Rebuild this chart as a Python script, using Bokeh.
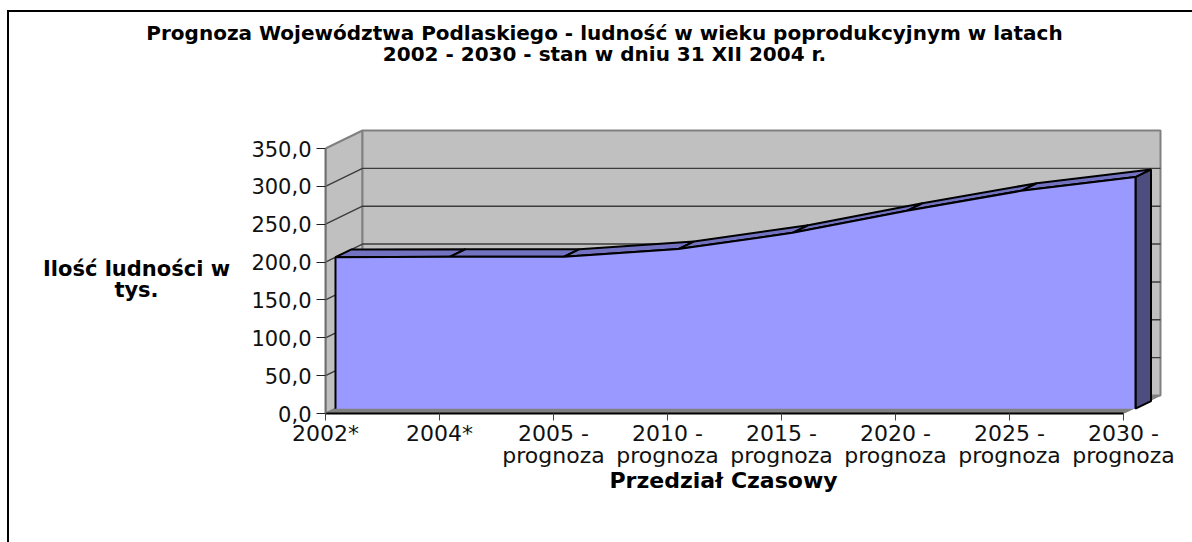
from bokeh.plotting import figure
from bokeh.models import Range1d, FixedTicker, Label
from bokeh.embed import file_html
from bokeh.resources import INLINE

categories = ["2002*", "2004*", "2005 -\nprognoza", "2010 -\nprognoza", "2015 -\nprognoza",
              "2020 -\nprognoza", "2025 -\nprognoza", "2030 -\nprognoza"]
population = [200.1, 200.5, 200.6, 210.7, 232.2, 261.3, 287.7, 305.8]
y_ticks = [0, 50, 100, 150, 200, 250, 300, 350]
y_tick_labels = ["0,0", "50,0", "100,0", "150,0", "200,0", "250,0", "300,0", "350,0"]
title_text = "Prognoza Województwa Podlaskiego - ludność w wieku poprodukcyjnym w latach\n2002 - 2030 - stan w dniu 31 XII 2004 r."
y_title = "Ilość ludności w\ntys."
x_title = "Przedział Czasowy"

FONT = "DejaVu Sans"
PX_PER_CAT = 114.0
PX_PER_VAL = 265.0 / 350.0
DX = 37.0 / PX_PER_CAT      # full chart depth, category units
DY = 18.0 / PX_PER_VAL      # full chart depth, value units
D_FRONT, D_BACK = 0.27, 0.69  # where the area slab sits within the depth
SLAB_STRETCH = 800.0 / 798.0
n = len(categories)
y_max = y_ticks[-1]
W, H = 1192, 542
F_LEFT, F_BOTTOM, F_W, F_H = 325, 413, 839, 285


def px(i, d):
    return i + d * DX


def sx(i, d):
    return i * SLAB_STRETCH + d * DX


def py(v, d):
    return v + d * DY


def data_x(page_x):
    return (page_x - F_LEFT) / PX_PER_CAT


def data_y(page_y):
    return (F_BOTTOM - page_y) / PX_PER_VAL


p = figure(width=W, height=H, output_backend="svg", toolbar_location=None,
           x_range=Range1d(0, F_W / PX_PER_CAT), y_range=Range1d(0, F_H / PX_PER_VAL),
           min_border_left=F_LEFT, min_border_right=W - F_LEFT - F_W,
           min_border_top=F_BOTTOM - F_H, min_border_bottom=H - F_BOTTOM,
           frame_width=F_W, frame_height=F_H)
p.outline_line_color = None
p.grid.visible = False
p.background_fill_color = "white"
p.border_fill_alpha = 0
p.styles = {
    "background-color": "white",
    "background-image": "linear-gradient(black,black),linear-gradient(black,black)",
    "background-repeat": "no-repeat",
    "background-position": "7px 10px,7px 10px",
    "background-size": "1185px 2px,2px 532px",
}

WALL, WALL_EDGE, GRID = "#C0C0C0", "#808080", "#3C3C3C"
last = n - 1

# walls and floor
p.patch([px(0, 0), px(0, 1), px(0, 1), px(0, 0)], [0, py(0, 1), py(y_max, 1), y_max],
        fill_color=WALL, line_color=WALL_EDGE, line_width=2)
p.patch([px(0, 1), px(last, 1), px(last, 1), px(0, 1)],
        [py(0, 1), py(0, 1), py(y_max, 1), py(y_max, 1)],
        fill_color=WALL, line_color=WALL_EDGE, line_width=2)
p.patch([px(0, 0), px(0, 1), px(last, 1), px(last, 0)], [0, py(0, 1), py(0, 1), 0],
        fill_color=WALL_EDGE, line_color=WALL_EDGE, line_width=1)

# gridlines across the side wall and back wall
for t in y_ticks[1:-1]:
    p.line([px(0, 0), px(0, 1), px(last, 1)], [t, py(t, 1), py(t, 1)], line_color=GRID, line_width=1.4)

# area slab: top facets, right side, front face
for i in range(last):
    p.patch([sx(i, D_FRONT), sx(i + 1, D_FRONT), sx(i + 1, D_BACK), sx(i, D_BACK)],
            [py(population[i], D_FRONT), py(population[i + 1], D_FRONT),
             py(population[i + 1], D_BACK), py(population[i], D_BACK)],
            fill_color="#7272C0", line_color="black", line_width=2)
p.patch([sx(last, D_FRONT), sx(last, D_BACK), sx(last, D_BACK), sx(last, D_FRONT)],
        [py(0, D_FRONT), py(0, D_BACK), py(population[last], D_BACK), py(population[last], D_FRONT)],
        fill_color="#4D4D80", line_color="black", line_width=2)
xs_front = [sx(i, D_FRONT) for i in range(n)]
ys_front = [py(v, D_FRONT) for v in population]
p.patch(xs_front + [xs_front[-1], xs_front[0]], ys_front + [py(0, D_FRONT), py(0, D_FRONT)],
        fill_color="#9999FF", line_color=None)
p.line([xs_front[0]] + xs_front + [xs_front[-1]], [py(0, D_FRONT)] + ys_front + [py(0, D_FRONT)],
       line_color="black", line_width=2)

# axes
xa = p.xaxis[0]
xa.bounds = (0, last)
xa.ticker = FixedTicker(ticks=list(range(n)))
xa.major_label_overrides = {i: c for i, c in enumerate(categories)}
xa.major_tick_in = 0
xa.major_tick_out = 7
xa.minor_tick_line_color = None
xa.axis_line_color = "black"
xa.axis_line_width = 2
xa.major_tick_line_color = "#404040"
xa.major_tick_line_width = 1
xa.major_label_text_font = FONT
xa.major_label_text_font_size = "22px"
xa.major_label_text_color = "#111111"
xa.major_label_standoff = 0
xa.major_label_text_line_height = 0.9
xa.major_label_orientation = "horizontal"

ya = p.yaxis[0]
ya.bounds = (0, y_max)
ya.ticker = FixedTicker(ticks=y_ticks)
ya.major_label_overrides = dict(zip(y_ticks, y_tick_labels))
ya.major_tick_in = 0
ya.major_tick_out = 9
ya.minor_tick_line_color = None
ya.axis_line_color = "#707070"
ya.axis_line_width = 2
ya.major_tick_line_color = "#202020"
ya.major_tick_line_width = 1
ya.major_label_text_font = FONT
ya.major_label_text_font_size = "21px"
ya.major_label_text_color = "#111111"
ya.major_label_standoff = 5

# free-standing texts: kept in side panels, where annotations are not clipped to the frame
for text, cx, cy, size, side in [(title_text, 604, 43, "20px", "above"),
                                 (y_title, 136, 279, "21px", "left"),
                                 (x_title, 723, 480, "22px", "below")]:
    p.add_layout(Label(x=data_x(cx), y=data_y(cy), text=text, text_font=FONT, text_font_style="bold",
                       text_font_size=size, text_align="center", text_baseline="middle",
                       text_line_height=0.9, text_color="black"), side)

open("out.html", "w").write(file_html(p, INLINE))
